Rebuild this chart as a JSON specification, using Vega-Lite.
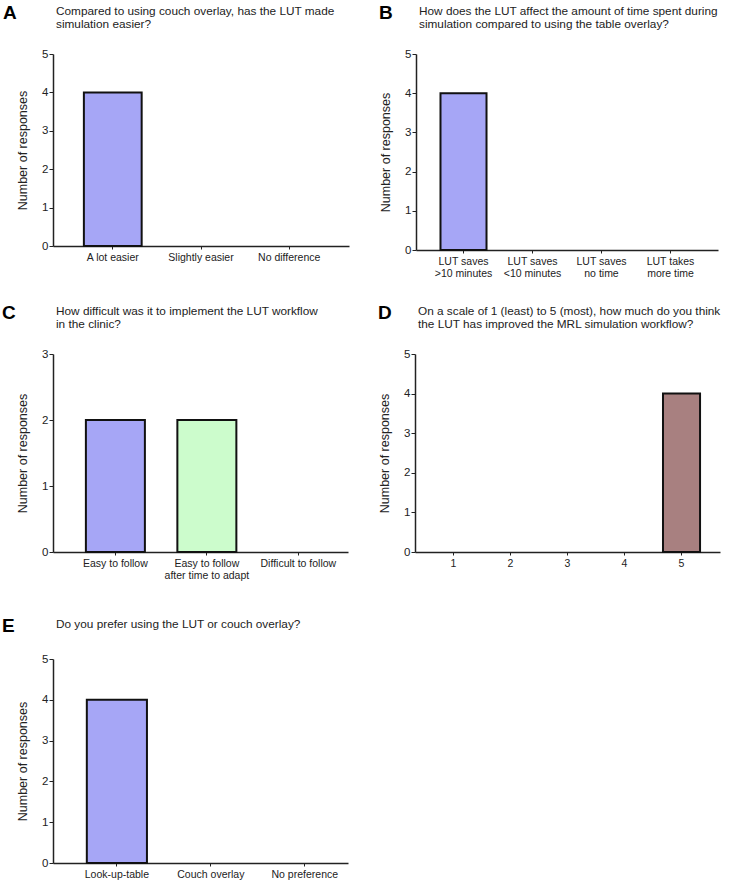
{
  "$schema": "https://vega.github.io/schema/vega-lite/v6.json",
  "padding": {"left": 2, "top": 4, "right": 0, "bottom": 0},
  "background": "white",
  "datasets": {
    "a": [{"answer": "A lot easier", "count": 4}, {"answer": "Slightly easier", "count": 0}, {"answer": "No difference", "count": 0}],
    "b": [{"answer": "LUT saves >10 minutes", "count": 4}, {"answer": "LUT saves <10 minutes", "count": 0}, {"answer": "LUT saves no time", "count": 0}, {"answer": "LUT takes more time", "count": 0}],
    "c": [{"answer": "Easy to follow", "count": 2}, {"answer": "Easy to follow after time to adapt", "count": 2}, {"answer": "Difficult to follow", "count": 0}],
    "d": [{"score": "1", "count": 0}, {"score": "2", "count": 0}, {"score": "3", "count": 0}, {"score": "4", "count": 0}, {"score": "5", "count": 4}],
    "e": [{"answer": "Look-up-table", "count": 4}, {"answer": "Couch overlay", "count": 0}, {"answer": "No preference", "count": 0}]
  },
  "config": {
    "font": "Liberation Sans",
    "view": {"stroke": null},
    "axis": {"domainColor": "#222", "domainWidth": 1.5, "tickColor": "#222", "tickWidth": 1, "labelFont": "Liberation Sans", "labelFontSize": 10.5, "labelColor": "#222", "titleFont": "Liberation Sans", "titleFontSize": 12.5, "titleFontWeight": "normal", "titleColor": "#222", "grid": false},
    "axisX": {"tickSize": 3, "labelPadding": 3, "labelAngle": 0, "title": null, "labelLineHeight": 12},
    "axisY": {"tickSize": 4, "labelPadding": 1, "titlePadding": 12, "labelFontSize": 11.5},
    "title": {"anchor": "start", "frame": "group", "dx": 3, "font": "Liberation Sans", "fontSize": 19, "fontWeight": "bold", "color": "#000", "subtitleFont": "Liberation Sans", "subtitleFontSize": 11.8, "subtitleColor": "#222", "subtitleLineHeight": 13, "subtitlePadding": -17, "offset": 17},
    "bar": {"stroke": "#111", "strokeWidth": 2}
  },
  "vconcat": [
    {
      "vconcat": [
        {
          "hconcat": [
            {
              "width": 296, "height": 192,
              "title": {"text": "A", "subtitle": ["Compared to using couch overlay, has the LUT made", "simulation easier?"], "encoding": {"dx": {"value": -50}}},
              "data": {"name": "a"},
              "mark": {"type": "bar", "fill": "#a6a6f6"},
              "encoding": {
                "x": {"field": "answer", "type": "nominal", "sort": null, "scale": {"paddingInner": 0.345, "paddingOuter": 0.35}},
                "y": {"field": "count", "type": "quantitative", "scale": {"domain": [0, 5]}, "axis": {"values": [0, 1, 2, 3, 4, 5], "title": "Number of responses"}},
                "strokeOpacity": {"condition": {"test": "datum.count == 0", "value": 0}, "value": 1}
              }
            },
            {
              "width": 302, "height": 196,
              "title": {"text": "B", "subtitle": ["How does the LUT affect the amount of time spent during", "simulation compared to using the table overlay?"], "encoding": {"dx": {"value": -37}}},
              "data": {"name": "b"},
              "mark": {"type": "bar", "fill": "#a6a6f6"},
              "encoding": {
                "x": {"field": "answer", "type": "nominal", "sort": null, "scale": {"paddingInner": 0.333, "paddingOuter": 0.355}, "axis": {"labelExpr": "[join(slice(split(datum.value, ' '), 0, 2), ' '), join(slice(split(datum.value, ' '), 2), ' ')]"}},
                "y": {"field": "count", "type": "quantitative", "scale": {"domain": [0, 5]}, "axis": {"values": [0, 1, 2, 3, 4, 5], "title": "Number of responses"}},
                "strokeOpacity": {"condition": {"test": "datum.count == 0", "value": 0}, "value": 1}
              }
            }
          ],
          "spacing": 30
        },
        {
          "hconcat": [
            {
              "width": 295, "height": 198,
              "title": {"text": "C", "subtitle": ["How difficult was it to implement the LUT workflow", "in the clinic?"], "encoding": {"dx": {"value": -51}}},
              "data": {"name": "c"},
              "mark": {"type": "bar"},
              "encoding": {
                "x": {"field": "answer", "type": "nominal", "sort": null, "scale": {"paddingInner": 0.355, "paddingOuter": 0.29, "align": 0.62}, "axis": {"labelExpr": "[join(slice(split(datum.value, ' '), 0, 3), ' '), join(slice(split(datum.value, ' '), 3), ' ')]"}},
                "y": {"field": "count", "type": "quantitative", "scale": {"domain": [0, 3]}, "axis": {"values": [0, 1, 2, 3], "title": "Number of responses"}},
                "fill": {"condition": {"test": "datum.answer == 'Easy to follow after time to adapt'", "value": "#ccfccc"}, "value": "#a6a6f6"},
                "strokeOpacity": {"condition": {"test": "datum.count == 0", "value": 0}, "value": 1}
              }
            },
            {
              "width": 305, "height": 198,
              "title": {"text": "D", "subtitle": ["On a scale of 1 (least) to 5 (most), how much do you think", "the LUT has improved the MRL simulation workflow?"], "encoding": {"dx": {"value": -37}}},
              "data": {"name": "d"},
              "mark": {"type": "bar", "fill": "#a88080"},
              "encoding": {
                "x": {"field": "score", "type": "ordinal", "sort": null, "scale": {"paddingInner": 0.35, "paddingOuter": 0.35}},
                "y": {"field": "count", "type": "quantitative", "scale": {"domain": [0, 5]}, "axis": {"values": [0, 1, 2, 3, 4, 5], "title": "Number of responses"}},
                "strokeOpacity": {"condition": {"test": "datum.count == 0", "value": 0}, "value": 1}
              }
            }
          ],
          "spacing": 30
        }
      ],
      "spacing": 25
    },
    {
      "width": 295, "height": 204,
      "title": {"text": "E", "subtitle": ["Do you prefer using the LUT or couch overlay?"], "encoding": {"dx": {"value": -51}}},
      "data": {"name": "e"},
      "mark": {"type": "bar", "fill": "#a6a6f6"},
      "encoding": {
        "x": {"field": "answer", "type": "nominal", "sort": null, "scale": {"paddingInner": 0.36, "paddingOuter": 0.25, "align": 0.72}},
        "y": {"field": "count", "type": "quantitative", "scale": {"domain": [0, 5]}, "axis": {"values": [0, 1, 2, 3, 4, 5], "title": "Number of responses"}},
        "strokeOpacity": {"condition": {"test": "datum.count == 0", "value": 0}, "value": 1}
      }
    }
  ],
  "spacing": 36
}
